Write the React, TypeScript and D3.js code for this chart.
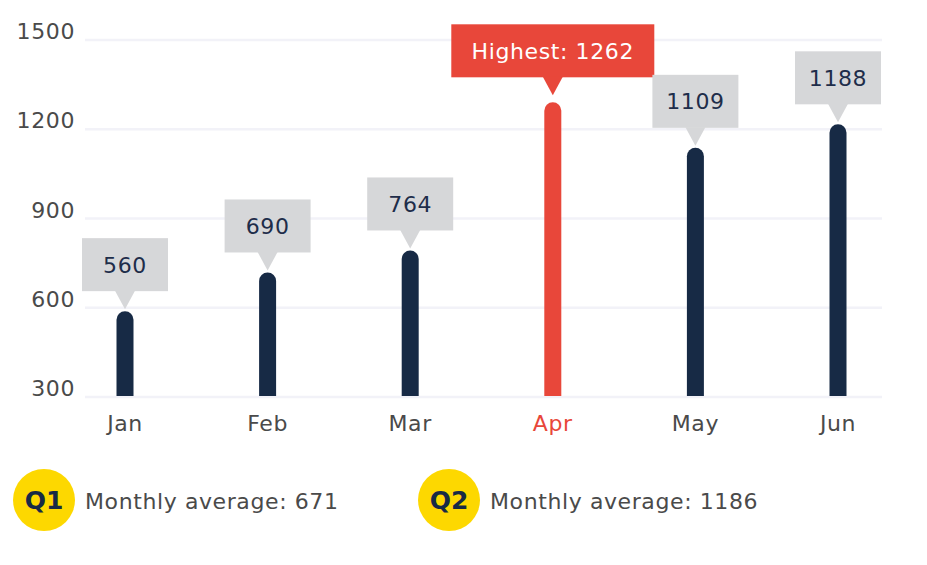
import React from "react";
import * as d3 from "d3";

const months = ["Jan", "Feb", "Mar", "Apr", "May", "Jun"];
const values = [560, 690, 764, 1262, 1109, 1188];
const yTicks = [300, 600, 900, 1200, 1500];
const quarters = ["Q1", "Q2"];
const averages = [671, 1186];

const W = 927;
const H = 565;
const FONT = "'DejaVu Sans', 'Noto Sans', sans-serif";
const NAVY = "#172a45";
const RED = "#e8473a";
const GREY_BOX = "#d6d7d9";
const TEXT = "#4a4a4a";
const FS = 22;
const LS = 0.6;

export default function App() {
  const x = d3.scalePoint<string>().domain(months).range([125, 838]);
  const y = d3.scaleLinear().domain([300, 1500]).range([397, 40]);
  const maxV = d3.max(values) as number;
  const r = 8.5;
  const base = y(300) - 1;
  const legendX = d3.scalePoint<string>().domain(quarters).range([44, 449]);

  return (
    <svg width={W} height={H} style={{ position: "absolute", left: 0, top: 0, background: "#fff" }}>
      {yTicks.map((t) => (
        <g key={t}>
          <line x1={85} x2={882} y1={y(t)} y2={y(t)} stroke="#f2f2f8" strokeWidth={2.5} />
          <text x={75} y={y(t) - 1} textAnchor="end" fontFamily={FONT} fontSize={FS} letterSpacing={LS} fill={TEXT}>
            {t}
          </text>
        </g>
      ))}
      {months.map((m, i) => {
        const v = values[i];
        const cx = x(m) as number;
        const vy = y(v);
        const isMax = v === maxV;
        const color = isMax ? RED : NAVY;
        const path = `M${cx - r},${base} L${cx - r},${vy} A${r},${r} 0 0 1 ${cx + r},${vy} L${cx + r},${base} Z`;
        const tip = vy - r - (isMax ? 7 : 2);
        const triH = 18;
        const boxH = 53;
        const boxW = isMax ? 203 : 86;
        const boxBottom = tip - triH;
        const boxTop = boxBottom - boxH;
        const boxFill = isMax ? RED : GREY_BOX;
        return (
          <g key={m}>
            <path d={path} fill={color} />
            <rect x={cx - boxW / 2} y={boxTop} width={boxW} height={boxH} fill={boxFill} />
            <path d={`M${cx - 10},${boxBottom - 0.5} L${cx + 10},${boxBottom - 0.5} L${cx},${tip} Z`} fill={boxFill} />
            <text
              x={cx}
              y={boxTop + boxH / 2 + 8}
              textAnchor="middle"
              fontFamily={FONT}
              fontSize={FS}
              letterSpacing={LS}
              fill={isMax ? "#ffffff" : "#1e2d4a"}
            >
              {isMax ? `Highest: ${v}` : v}
            </text>
            <text x={cx} y={431} textAnchor="middle" fontFamily={FONT} fontSize={FS} letterSpacing={LS} fill={isMax ? RED : TEXT}>
              {m}
            </text>
          </g>
        );
      })}
      {quarters.map((q, i) => {
        const cx = legendX(q) as number;
        return (
          <g key={q}>
            <circle cx={cx} cy={500} r={31} fill="#fdd800" />
            <text x={cx} y={509} textAnchor="middle" fontFamily={FONT} fontWeight="bold" fontSize={25} fill={NAVY}>
              {q}
            </text>
            <text x={cx + 41} y={509} fontFamily={FONT} fontSize={FS} letterSpacing={LS} fill={TEXT}>
              {`Monthly average: ${averages[i]}`}
            </text>
          </g>
        );
      })}
    </svg>
  );
}
